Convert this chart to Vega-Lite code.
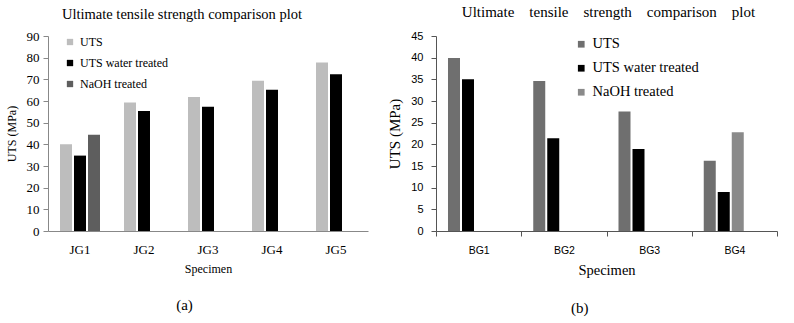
{
  "$schema": "https://vega.github.io/schema/vega-lite/v6.json",
  "padding": {"left": 5, "top": 5, "right": 5, "bottom": 5},
  "background": "white",
  "config": {
    "view": {"stroke": null},
    "axis": {"grid": false, "domainColor": "#888888", "tickColor": "#888888", "labelColor": "#000000", "titleColor": "#000000", "titleFontWeight": "normal"},
    "title": {"fontWeight": "normal", "color": "#000000"}
  },
  "spacing": 19,
  "hconcat": [
    {
      "title": {"text": "(a)", "orient": "bottom", "anchor": "middle", "font": "Liberation Serif", "fontSize": 15, "offset": 24, "dx": -2},
      "vconcat": [
        {
          "width": 320,
          "height": 195,
          "title": {"text": "Ultimate tensile strength comparison plot", "font": "Liberation Serif", "fontSize": 14.5, "offset": 8, "dx": -26},
          "data": {"values": [
            {"specimen": "JG1", "series": "UTS", "uts": 40},
            {"specimen": "JG1", "series": "UTS water treated", "uts": 34.8},
            {"specimen": "JG1", "series": "NaOH treated", "uts": 44.4},
            {"specimen": "JG2", "series": "UTS", "uts": 59.3},
            {"specimen": "JG2", "series": "UTS water treated", "uts": 55.4},
            {"specimen": "JG3", "series": "UTS", "uts": 61.8},
            {"specimen": "JG3", "series": "UTS water treated", "uts": 57.3},
            {"specimen": "JG4", "series": "UTS", "uts": 69.3},
            {"specimen": "JG4", "series": "UTS water treated", "uts": 65.2},
            {"specimen": "JG5", "series": "UTS", "uts": 77.8},
            {"specimen": "JG5", "series": "UTS water treated", "uts": 72.4}
          ]},
          "mark": {"type": "bar"},
          "encoding": {
            "x": {"field": "specimen", "type": "nominal", "title": "Specimen",
              "scale": {"paddingInner": 0, "paddingOuter": 0},
              "axis": {"labelAngle": 0, "ticks": false, "labelFont": "Liberation Serif", "labelFontSize": 13, "labelPadding": 12, "titleFont": "Liberation Serif", "titleFontSize": 12, "titlePadding": 7}},
            "xOffset": {"field": "series", "type": "nominal",
              "scale": {"domain": ["UTS", "UTS water treated", "NaOH treated"], "paddingInner": 0.143, "paddingOuter": 0.857}},
            "y": {"field": "uts", "type": "quantitative", "title": "UTS (MPa)",
              "scale": {"domain": [0, 90]},
              "axis": {"values": [0, 10, 20, 30, 40, 50, 60, 70, 80, 90], "tickSize": 5, "labelPadding": 4, "labelFont": "Liberation Serif", "labelFontSize": 13, "titleFont": "Liberation Serif", "titleFontSize": 12, "titlePadding": 8}},
            "color": {"field": "series", "type": "nominal",
              "scale": {"domain": ["UTS", "UTS water treated", "NaOH treated"], "range": ["#bdbdbd", "#000000", "#5e5e5e"]},
              "legend": {"orient": "none", "legendX": 16, "legendY": 0, "title": null, "symbolType": "square", "symbolSize": 40, "symbolStrokeWidth": 0, "labelFont": "Liberation Serif", "labelFontSize": 12, "rowPadding": 9, "labelOffset": 4}}
          }
        }
      ]
    },
    {
      "title": {"text": "(b)", "orient": "bottom", "anchor": "middle", "font": "Liberation Serif", "fontSize": 15, "offset": 24, "dx": -3},
      "vconcat": [
        {
          "width": 341,
          "height": 195,
          "title": {"text": "Ultimate\u00a0\u00a0\u00a0 tensile\u00a0\u00a0\u00a0 strength\u00a0\u00a0\u00a0 comparison\u00a0\u00a0\u00a0 plot", "font": "Liberation Serif", "fontSize": 15, "offset": 10, "dx": 2},
          "data": {"values": [
            {"specimen": "BG1", "series": "UTS", "uts": 39.9},
            {"specimen": "BG1", "series": "UTS water treated", "uts": 35},
            {"specimen": "BG2", "series": "UTS", "uts": 34.6},
            {"specimen": "BG2", "series": "UTS water treated", "uts": 21.4},
            {"specimen": "BG3", "series": "UTS", "uts": 27.6},
            {"specimen": "BG3", "series": "UTS water treated", "uts": 18.9},
            {"specimen": "BG4", "series": "UTS", "uts": 16.2},
            {"specimen": "BG4", "series": "UTS water treated", "uts": 9},
            {"specimen": "BG4", "series": "NaOH treated", "uts": 22.8}
          ]},
          "mark": {"type": "bar"},
          "encoding": {
            "x": {"field": "specimen", "type": "nominal", "title": "Specimen",
              "scale": {"paddingInner": 0, "paddingOuter": 0},
              "axis": {"labelAngle": 0, "ticks": true, "tickBand": "extent", "tickSize": 5, "domainColor": "#555555", "tickColor": "#555555", "labelFont": "Liberation Sans", "labelFontSize": 10.5, "labelPadding": 9, "titleFont": "Liberation Serif", "titleFontSize": 14.5, "titlePadding": 8}},
            "xOffset": {"field": "series", "type": "nominal",
              "scale": {"domain": ["UTS", "UTS water treated", "NaOH treated"], "paddingInner": 0.21, "paddingOuter": 0.84}},
            "y": {"field": "uts", "type": "quantitative", "title": "UTS (MPa)",
              "scale": {"domain": [0, 45]},
              "axis": {"values": [0, 5, 10, 15, 20, 25, 30, 35, 40, 45], "tickSize": 5, "labelPadding": 8, "domainColor": "#555555", "tickColor": "#555555", "labelFont": "Liberation Sans", "labelFontSize": 11, "titleFont": "Liberation Serif", "titleFontSize": 15, "titlePadding": 8}},
            "color": {"field": "series", "type": "nominal",
              "scale": {"domain": ["UTS", "UTS water treated", "NaOH treated"], "range": ["#6f6f6f", "#000000", "#8a8a8a"]},
              "legend": {"orient": "none", "legendX": 138, "legendY": 1, "title": null, "symbolType": "square", "symbolSize": 45, "symbolStrokeWidth": 0, "labelFont": "Liberation Serif", "labelFontSize": 14.5, "rowPadding": 9, "labelOffset": 4}}
          }
        }
      ]
    }
  ],
  "resolve": {"scale": {"color": "independent", "x": "independent", "y": "independent"}, "legend": {"color": "independent"}}
}
